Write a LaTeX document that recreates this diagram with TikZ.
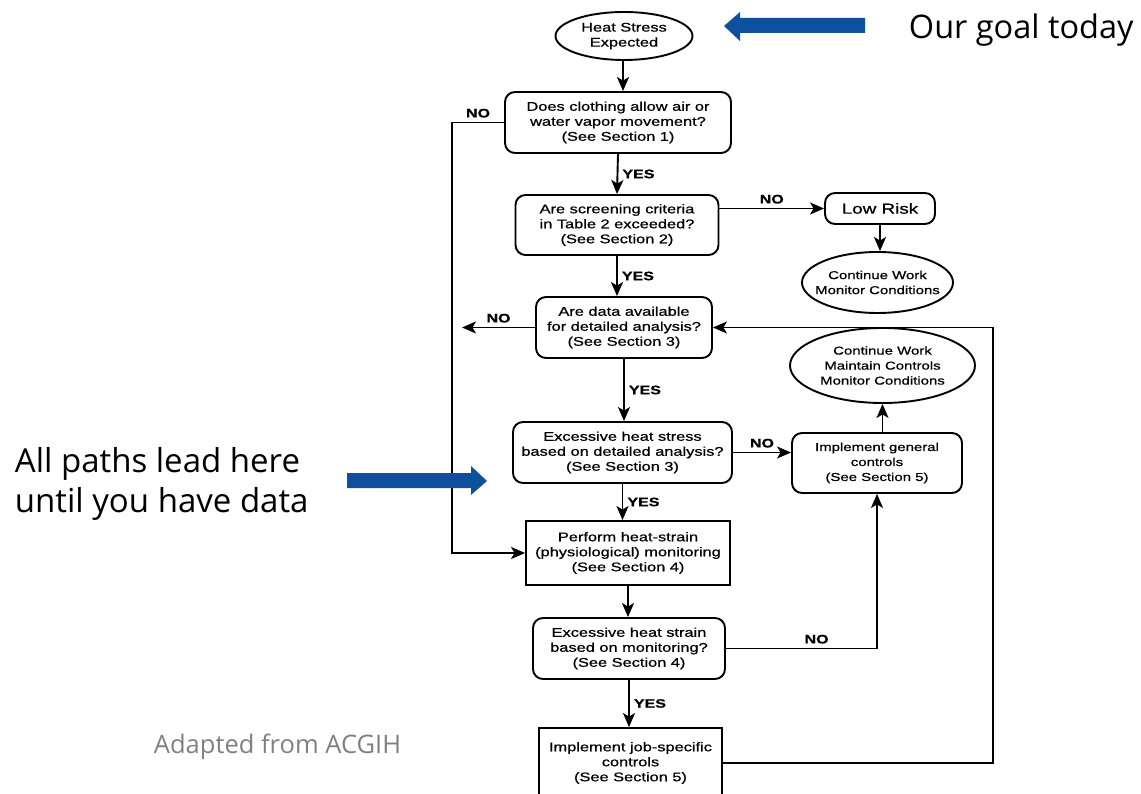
\documentclass[tikz,border=0pt]{standalone}
\usepackage{fontspec}
\setmainfont{Liberation Sans}
\newfontfamily\chartfont[FakeStretch=1.3, FakeBold=0.7]{Liberation Sans}
\newfontfamily\slidefont{Open Sans}
\usetikzlibrary{arrows.meta, shapes.geometric}
\definecolor{slideblue}{RGB}{14,80,158}
\definecolor{slidegray}{RGB}{128,128,128}

\begin{document}
\begin{tikzpicture}[x=1pt, y=-1pt, line width=1.9pt, >={Stealth[length=14pt, width=12pt, inset=3.5pt]},
    box/.style={draw, rounded corners=10pt, align=center, inner sep=0pt, font=\chartfont\fontsize{12.6}{15}\selectfont},
    sqbox/.style={box, sharp corners},
    oval/.style={box, ellipse, inner xsep=-18pt},
    small/.style={font=\chartfont\fontsize{11.5}{15}\selectfont},
    answer/.style={font=\chartfont\bfseries\fontsize{12.3}{15}\selectfont, inner sep=4pt}]
    \useasboundingbox (0,0) rectangle (1141,794);
    \node[oval, minimum width=137, minimum height=48] (hs) at (624,36) {Heat Stress\\Expected};
    \node[box, minimum width=226, minimum height=61] (q1) at (618,122.5) {Does clothing allow air or\\water vapor movement?\\(See Section 1)};
    \node[box, minimum width=203, minimum height=60] (q2) at (617,225) {Are screening criteria\\in Table 2 exceeded?\\(See Section 2)};
    \node[box, minimum width=176, minimum height=61] (q3) at (624,327.5) {Are data available\\for detailed analysis?\\(See Section 3)};
    \node[box, minimum width=219, minimum height=61] (q4) at (622.5,452.5) {Excessive heat stress\\based on detailed analysis?\\(See Section 3)};
    \node[sqbox, minimum width=204, minimum height=64] (mon) at (628,553) {Perform heat-strain\\(physiological) monitoring\\(See Section 4)};
    \node[box, minimum width=192, minimum height=61] (q5) at (629,648.5) {Excessive heat strain\\based on monitoring?\\(See Section 4)};
    \node[sqbox, minimum width=183, minimum height=70] (job) at (630.5,763) {Implement job-specific\\controls\\(See Section 5)};
    \node[box, minimum width=110, minimum height=31, font=\chartfont\fontsize{14.5}{15}\selectfont] (low) at (880,208.5) {Low Risk};
    \node[oval, small, minimum width=151, minimum height=61] (cw) at (877.5,282.5) {Continue Work\\Monitor Conditions};
    \node[oval, small, minimum width=185, minimum height=75] (cwm) at (882.5,365.5) {Continue Work\\Maintain Controls\\Monitor Conditions};
    \node[box, small, minimum width=170, minimum height=60] (gen) at (877,463) {Implement general\\controls\\(See Section 5)};
    \coordinate (nodata) at (462,327.5);

    \draw[->] (hs.south -| 623,0) -- (623,0 |- q1.north);
    \draw[->] (q1.south) -- node[answer, right] {YES} (q2.north);
    \draw[->] (q2.south) -- node[answer, right] {YES} (q2.south |- q3.north);
    \draw[->] (q3.south) -- node[answer, right] {YES} (q3.south |- q4.north);
    \draw[->] (q4.south) -- node[answer, right] {YES} (q4.south |- mon.north);
    \draw[->] (mon.south) -- (mon.south |- q5.north);
    \draw[->] (q5.south) -- node[answer, right] {YES} (q5.south |- job.north);
    \draw[->] (q1.west) -- node[answer, above] {NO} ++(-52,0) |- (mon.west);
    \draw[->] (low.west -| q2.east) -- node[answer, above] {NO} (low.west);
    \draw[->] (low.south) -- (low.south |- cw.north);
    \draw[->] (q3.west) -- node[answer, above] {NO} (nodata);
    \draw[->] (q4.east) -- node[answer, above] {NO} (q4.east -| gen.west);
    \draw[->] (gen.north -| cwm) -- (cwm.south);
    \draw[->] (q5.east) -| node[answer, above, pos=0.3] {NO} (gen.south);
    \draw[->] (job.east) -- ++(270,0) |- (q3.east);

    \fill[slideblue] (724,26) -- (740,12) -- (740,18) -- (865,18) -- (865,33) -- (740,33) -- (740,41) -- cycle;
    \fill[slideblue] (487,481) -- (471,466) -- (471,473) -- (347,473) -- (347,488) -- (471,488) -- (471,495) -- cycle;
    \node[anchor=base west, inner sep=0pt, font=\slidefont\fontsize{32.5}{40}\selectfont] (goal) at (908,39) {Our goal today};
    \node[anchor=west, align=left, inner sep=0pt, font=\slidefont\fontsize{33}{40}\selectfont] (lead) at (14,484) {All paths lead here\\until you have data};
    \node[anchor=base west, inner sep=0pt, text=slidegray, font=\slidefont\fontsize{25.5}{30}\selectfont] (src) at (153,753) {Adapted from ACGIH};
\end{tikzpicture}
\end{document}
